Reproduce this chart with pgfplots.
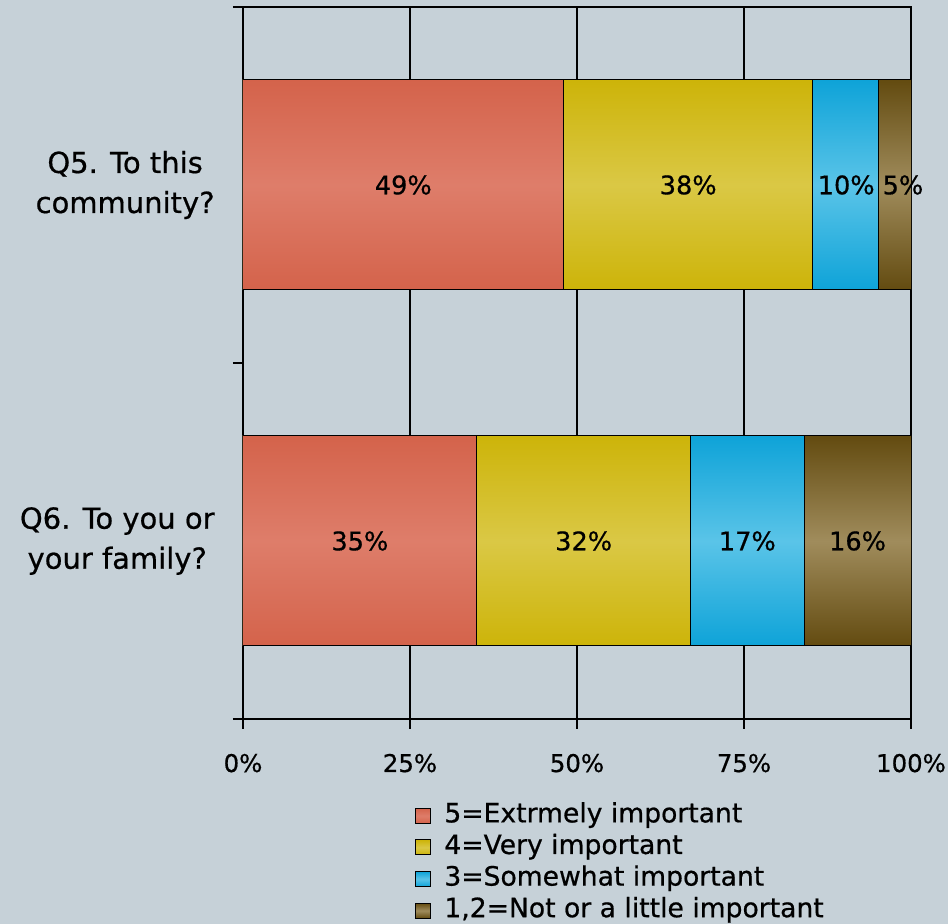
\documentclass[border=0pt]{standalone}
\usepackage{pgfplots}
\pgfplotsset{compat=1.18}
\usepackage{fontspec}
\setmainfont{DejaVu Sans}[UprightFeatures={FakeBold=0.6}]
\definecolor{bg}{HTML}{C6D1D8}
\definecolor{redE}{HTML}{D4634B}
\definecolor{redM}{HTML}{DE7D6A}
\definecolor{yelE}{HTML}{CDB409}
\definecolor{yelM}{HTML}{DAC845}
\definecolor{bluE}{HTML}{0EA3D8}
\definecolor{bluM}{HTML}{5AC4E8}
\definecolor{broE}{HTML}{634B10}
\definecolor{broM}{HTML}{A08C5C}
\pgfplotsset{
  redbar/.style={draw=black, line width=0.5pt, top color=redE, bottom color=redE, middle color=redM},
  yelbar/.style={draw=black, line width=0.5pt, top color=yelE, bottom color=yelE, middle color=yelM},
  blubar/.style={draw=black, line width=0.5pt, top color=bluE, bottom color=bluE, middle color=bluM},
  brobar/.style={draw=black, line width=0.5pt, top color=broE, bottom color=broE, middle color=broM},
}
\begin{document}
\begin{tikzpicture}
\fill[bg] (-121.5pt,-102.5pt) rectangle (352.5pt,359.5pt);
\begin{axis}[
  at={(0,0)}, anchor=south west,
  scale only axis, width=334pt, height=356pt,
  xbar, bar shift=0pt, bar width=105pt,
  xmin=0, xmax=100, ymin=-0.5, ymax=1.5,
  axis line style={line width=1pt, black},
  xmajorgrids, grid style={black, line width=0.6pt},
  tick align=outside, major tick length=5pt,
  tick style={black, line width=0.8pt},
  xtick pos=bottom, ytick pos=left,
  xtick={0,25,50,75,100},
  /pgf/number format/assume math mode=true,
  xticklabel={\pgfmathprintnumber{\tick}\%},
  xticklabel style={font=\fontsize{12.2}{14}\selectfont, anchor=base, yshift=-21.5pt},
  ytick={-0.5,0.5,1.5}, yticklabels={{},{},{}},
  extra y ticks={0,1},
  extra y tick labels={{Q6. To you or\\your family?},{Q5. To this\\community?}},
  extra y tick style={tick style={draw=none}, yticklabel style={align=center, font=\fontsize{14.5}{20}\selectfont, inner sep=0pt, anchor=east, xshift=-9pt}},
  legend style={at={(axis description cs:0.2575,0)}, anchor=north west, yshift=-42pt,
    draw=none, fill=none, inner sep=0pt, row sep=3.3pt,
    font=\fontsize{13.3}{15}\selectfont,
    nodes={inner sep=0pt, text height=9.5pt, text depth=3pt}},
  legend cell align=left,
  legend image code/.code={\draw[#1, draw=black, line width=0.5pt] (0pt,-3.75pt) rectangle (7.5pt,3.75pt); \path (14pt,0pt);},
]
\addlegendimage{redbar}\addlegendentry{5=Extrmely important}
\addlegendimage{yelbar}\addlegendentry{4=Very important}
\addlegendimage{blubar}\addlegendentry{3=Somewhat important}
\addlegendimage{brobar}\addlegendentry{1,2=Not or a little important}
% cumulative ends of the segments (Q5 at y=1, Q6 at y=0)
\addplot[brobar, forget plot] coordinates {(100,1)};
\addplot[brobar, forget plot] coordinates {(100,0)};
\addplot[blubar, forget plot] coordinates {(95.1,1)};
\addplot[blubar, forget plot] coordinates {(84,0)};
\addplot[yelbar, forget plot] coordinates {(85.3,1)};
\addplot[yelbar, forget plot] coordinates {(67,0)};
\addplot[redbar, forget plot] coordinates {(48.0,1)};
\addplot[redbar, forget plot] coordinates {(35,0)};
\end{axis}
\begin{axis}[
  at={(0,0)}, anchor=south west,
  scale only axis, width=334pt, height=356pt,
  xmin=0, xmax=100, ymin=-0.5, ymax=1.5,
  hide axis, clip=false,
]
\addplot[draw=none, mark=none, nodes near coords, point meta=explicit symbolic,
  nodes near coords style={anchor=center, inner sep=0pt, font=\fontsize{12.8}{14}\selectfont}]
  coordinates {(24.0,1) [49\%] (66.65,1) [38\%] (90.3,1) [10\%] (98.8,1) [5\%]
               (17.5,0) [35\%] (51,0) [32\%] (75.5,0) [17\%] (92,0) [16\%]};
\end{axis}
\pgfresetboundingbox
\useasboundingbox (-121.5pt,-102.5pt) rectangle (352.5pt,359.5pt);
\end{tikzpicture}
\end{document}
